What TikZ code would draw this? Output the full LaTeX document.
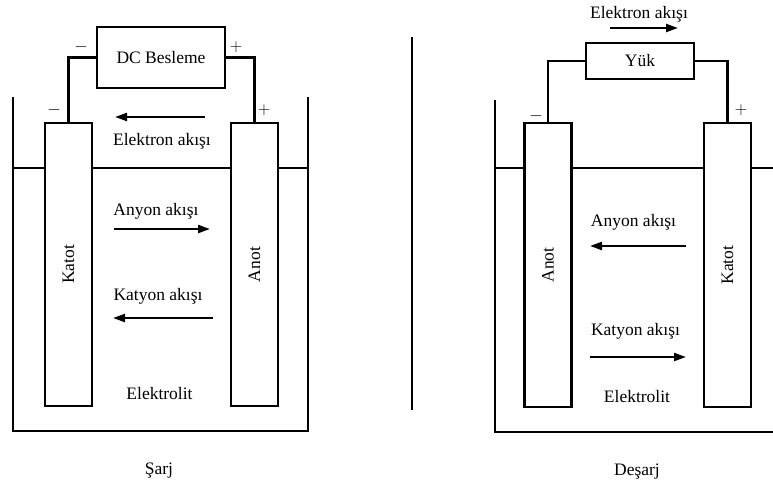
\documentclass[tikz,border=0pt]{standalone}
\usepackage{fontspec}
\setmainfont{Liberation Serif}
\usetikzlibrary{arrows.meta, positioning}
\tikzset{
  wall/.style={line width=2.2pt},
  electrode/.style={rectangle,draw,line width=2.2pt,fill=white,minimum width=47pt,minimum height=283pt,inner sep=0pt},
  src/.style={rectangle,draw,line width=2.2pt,fill=white,inner sep=0pt},
  wire/.style={line width=2.2pt},
  flow/.style={line width=2.2pt,-{Triangle[length=12pt,width=8pt]}},
  lbl/.style={anchor=base,inner sep=0pt},
  sgn/.style={font=\fontsize{17}{18}\selectfont,inner sep=0pt}
}

\begin{document}
\begin{tikzpicture}[x=1pt,y=-1pt,font=\fontsize{17.5}{20}\selectfont]
\useasboundingbox (0,0) rectangle (773,488);

% Sarj (left)
\draw[wall] (13,97) |- (308,431) -- (308,97);
\draw[wall] (13,168) -- (308,168);
\node[electrode] (katA) at (68.5,264.5) {\rotatebox{90}{Katot}};
\node[electrode] (anA) at (254.5,264.5) {\rotatebox{90}{Anot}};
\node[src, minimum width=128pt, minimum height=61pt] (dc) at (161,57.5) {DC Besleme};
\draw[wire] (dc.west) -| (katA.north);
\draw[wire] (dc.east) -| (anA.north);
\node[sgn] (dcm) at (81,47) {$-$};
\node[sgn] (dcp) at (236,47) {$+$};
\node[sgn] (katAm) at (54,110) {$-$};
\node[sgn] (anAp) at (264,110) {$+$};

\coordinate (eA1) at (205,117);
\coordinate (eA2) at (115,117);
\draw[flow] (eA1) -- (eA2);
\node[lbl] (elA) at (162,145) {Elektron akışı};
\node[lbl] (anyA) at (156,215) {Anyon akışı};
\coordinate (aA1) at (114,229);
\coordinate (aA2) at (210,229);
\draw[flow] (aA1) -- (aA2);
\node[lbl] (katyA) at (158,300) {Katyon akışı};
\coordinate (kA1) at (213,318);
\coordinate (kA2) at (113,318);
\draw[flow] (kA1) -- (kA2);
\node[lbl] (etA) at (159.5,399) {Elektrolit};
\node[lbl] (sarj) at (159,474) {Şarj};

% separator
\draw[wall] (412,37) -- (412,410);

% Desarj (right)
\draw[wall] (495,100) |- (773,432);
\draw[wall] (495,168) -- (773,168);
\node[electrode, minimum height=284pt] (anB) at (548,265) {\rotatebox{90}{Anot}};
\node[electrode, minimum height=284pt] (katB) at (727.5,265) {\rotatebox{90}{Katot}};
\node[src, minimum width=108pt, minimum height=36pt] (yuk) at (640,61) {Yük};
\draw[wire] (yuk.west) -| (anB.north);
\draw[wire] (yuk.east) -| (katB.north);
\node[sgn] (anBm) at (536,116) {$-$};
\node[sgn] (katBp) at (741,110) {$+$};

\node[lbl] (elB) at (639,18) {Elektron akışı};
\coordinate (eB1) at (610,28);
\coordinate (eB2) at (678,28);
\draw[flow] (eB1) -- (eB2);
\node[lbl] (anyB) at (633.5,226) {Anyon akışı};
\coordinate (aB1) at (686,246);
\coordinate (aB2) at (590,246);
\draw[flow] (aB1) -- (aB2);
\node[lbl] (katyB) at (635.5,335) {Katyon akışı};
\coordinate (kB1) at (590,357);
\coordinate (kB2) at (686,357);
\draw[flow] (kB1) -- (kB2);
\node[lbl] (etB) at (637,402) {Elektrolit};
\node[lbl] (desarj) at (637,475) {Deşarj};
\end{tikzpicture}
\end{document}
